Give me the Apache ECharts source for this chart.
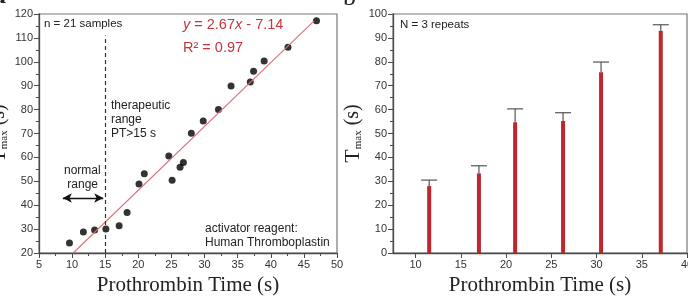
<!DOCTYPE html>
<html>
<head>
<meta charset="utf-8">
<script src="https://cdn.jsdelivr.net/npm/echarts@6/dist/echarts.min.js"></script>
<style>
    html, body { margin: 0; padding: 0; background: #fff; }
    #chart { width: 688px; height: 297px; }
</style>
</head>
<body>
<div id="chart"></div>
<script>
    // panel a: Tmax vs PT, 21 samples
    var ptSamples = [9.6, 11.7, 13.4, 15.1, 17.1, 18.3, 20.1, 20.9, 24.6, 25.1, 26.3, 26.8,
        28.0, 29.8, 32.1, 34.0, 36.9, 37.4, 39.0, 42.6, 46.9];
    var tmaxSamples = [24.2, 28.8, 29.6, 30.0, 31.4, 36.9, 48.9, 53.2, 60.6, 50.4, 55.9, 57.9,
        70.1, 75.2, 80.0, 89.9, 91.5, 96.0, 100.3, 106.1, 117.2];
    var fitLine = [[10.2, 20.1], [46.5, 117.0]];

    // panel b: mean Tmax with error (N = 3)
    var ptRepeats = [11.5, 17.0, 21.0, 26.3, 30.5, 37.1];
    var tmaxMean = [28.0, 33.3, 54.7, 55.2, 75.6, 93.0];
    var tmaxTop = [30.5, 36.5, 60.3, 58.7, 79.9, 95.5];
    var ptTicksB = [10, 15, 20, 25, 30, 35, 40];

    var redText = '#c8343c';
    var redBar = '#c0262e';
    var axisColor = '#4a4a4a';
    var labelFont = 'Liberation Sans';
    var titleFont = 'Liberation Serif';

    var chart = echarts.init(document.getElementById('chart'));

    function axisBase() {
        return {
            axisLine: { show: true, onZero: false, lineStyle: { color: axisColor, width: 1.3 } },
            axisTick: { show: true, length: 5, lineStyle: { color: axisColor } },
            minorTick: { show: true, splitNumber: 2, length: 3, lineStyle: { color: axisColor } },
            axisLabel: { color: '#333', fontSize: 11, fontFamily: labelFont, margin: 6 },
            splitLine: { show: false }
        };
    }

    var yName = {
        nameLocation: 'middle',
        nameRotate: 90,
        name: '{t|T}{s|max}{u| (s)}',
        nameTextStyle: {
            rich: {
                t: { fontSize: 22, fontFamily: titleFont, color: '#222' },
                s: { fontSize: 11, fontFamily: titleFont, color: '#222', verticalAlign: 'bottom', padding: [10, 0, 0, 0] },
                u: { fontSize: 20, fontFamily: titleFont, color: '#222' }
            }
        }
    };

    var xName = {
        name: 'Prothrombin Time (s)',
        nameLocation: 'middle',
        nameGap: 22,
        nameTextStyle: { fontSize: 21, fontFamily: titleFont, color: '#222' }
    };

    var option = {
        animation: false,
        grid: [
            { left: 39, right: 351, top: 14, bottom: 44, outerBoundsMode: 'none', show: true, borderColor: '#777', borderWidth: 1.2 },
            { left: 393, right: 1, top: 14, bottom: 44, outerBoundsMode: 'none', show: true, borderColor: '#777', borderWidth: 1.2 }
        ],
        xAxis: [
            Object.assign(axisBase(), xName, { gridIndex: 0, type: 'value', min: 5, max: 50, interval: 5 }),
            Object.assign(axisBase(), xName, {
                gridIndex: 1, type: 'value', min: 7.5, max: 40,
                minorTick: { show: false },
                axisTick: { show: true, length: 5, customValues: ptTicksB, lineStyle: { color: axisColor } },
                axisLabel: { color: '#333', fontSize: 11, fontFamily: labelFont, margin: 6, customValues: ptTicksB }
            })
        ],
        yAxis: [
            Object.assign(axisBase(), yName, { gridIndex: 0, type: 'value', min: 20, max: 120, interval: 10, nameGap: 29 }),
            Object.assign(axisBase(), yName, { gridIndex: 1, type: 'value', min: 0, max: 100, interval: 10, nameGap: 29 })
        ],
        graphic: [
            { type: 'text', left: -7, top: -17, style: { text: 'a', fontSize: 26, fontFamily: titleFont, fontWeight: 'bold', fill: '#222' } },
            { type: 'text', left: 343, top: -15, style: { text: 'b', fontSize: 26, fontFamily: titleFont, fill: '#222' } },
            { type: 'text', left: 44, top: 18, style: { text: 'n = 21 samples', fontSize: 11.5, fontFamily: labelFont, fill: '#222' } },
            {
                type: 'text', left: 183, top: 17,
                style: {
                    text: '{i|y} = 2.67{i|x} - 7.14',
                    fill: redText,
                    rich: {
                        i: { fontSize: 14.5, fontFamily: labelFont, fontStyle: 'italic', fill: redText },
                    },
                    fontSize: 14.5, fontFamily: labelFont
                }
            },
            { type: 'text', left: 183, top: 40, style: { text: 'R² = 0.97', fontSize: 14.5, fontFamily: labelFont, fill: redText } },
            { type: 'text', left: 111, top: 99, style: { text: 'therapeutic\nrange\nPT>15 s', fontSize: 12, lineHeight: 14, fontFamily: labelFont, fill: '#222' } },
            { type: 'text', left: 64, top: 164, style: { text: 'normal\n range', fontSize: 12, lineHeight: 14, fontFamily: labelFont, fill: '#222' } },
            { type: 'text', left: 205, top: 222, style: { text: 'activator reagent:\nHuman Thromboplastin', fontSize: 12, lineHeight: 14, fontFamily: labelFont, fill: '#222' } },
            { type: 'text', left: 400, top: 19, style: { text: 'N = 3 repeats', fontSize: 11.5, fontFamily: labelFont, fill: '#222' } }
        ],
        series: [
            {
                type: 'line',
                xAxisIndex: 0, yAxisIndex: 0,
                data: fitLine,
                showSymbol: false,
                lineStyle: { color: '#d8707a', width: 1.1 },
                markLine: {
                    silent: true,
                    symbol: ['none', 'none'],
                    label: { show: false },
                    lineStyle: { color: '#333', type: [4, 3], width: 1.2 },
                    data: [
                        [{ coord: [15, 20] }, { coord: [15, 111] }]
                    ]
                }
            },
            {
                type: 'scatter',
                xAxisIndex: 0, yAxisIndex: 0,
                data: ptSamples.map(function (x, i) { return [x, tmaxSamples[i]]; }),
                symbolSize: 7,
                itemStyle: { color: '#000' },
                markLine: {
                    silent: true,
                    symbol: ['arrow', 'arrow'],
                    symbolSize: [7, 9],
                    label: { show: false },
                    lineStyle: { color: '#111', type: 'solid', width: 1.3 },
                    data: [
                        [{ coord: [8.6, 43] }, { coord: [14.7, 43] }]
                    ]
                }
            },
            {
                type: 'custom',
                xAxisIndex: 1, yAxisIndex: 1,
                data: ptRepeats.map(function (x, i) { return [x, tmaxMean[i], tmaxTop[i]]; }),
                renderItem: function (params, api) {
                    var base = api.coord([api.value(0), api.value(1)]);
                    var top = api.coord([api.value(0), api.value(2)]);
                    return {
                        type: 'group',
                        children: [
                            { type: 'line', shape: { x1: base[0], y1: base[1], x2: top[0], y2: top[1] }, style: { stroke: '#555', lineWidth: 1.2 } },
                            { type: 'line', shape: { x1: top[0] - 8, y1: top[1], x2: top[0] + 8, y2: top[1] }, style: { stroke: '#555', lineWidth: 1.2 } }
                        ]
                    };
                },
                z: 1
            },
            {
                type: 'bar',
                xAxisIndex: 1, yAxisIndex: 1,
                data: ptRepeats.map(function (x, i) { return [x, tmaxMean[i]]; }),
                barWidth: 4,
                itemStyle: { color: redBar },
                z: 2
            }
        ]
    };

    chart.setOption(option);
</script>
</body>
</html>
